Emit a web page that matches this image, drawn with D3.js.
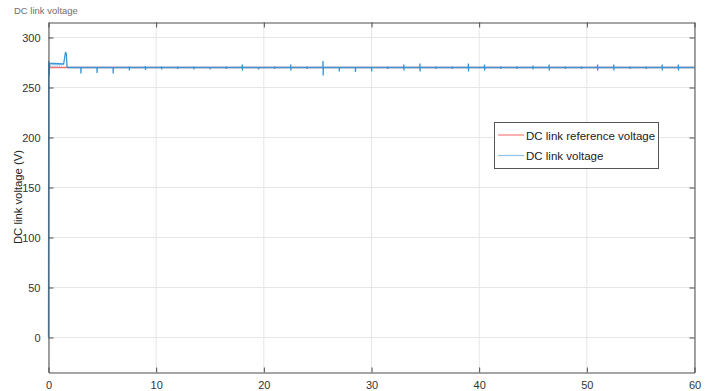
<!DOCTYPE html>
<html>
<head>
<meta charset="utf-8">
<script src="https://cdn.jsdelivr.net/npm/d3@7"></script>
<style>
  body { margin: 0; background: #fff; }
  svg text { font-family: "Liberation Sans", Arial, sans-serif; }
</style>
</head>
<body>
<div id="chart"></div>
<script>
// reference voltage (constant)
const refVoltage = [[0, 270], [60, 270]];

// start-up rise and the fast ripple right after it
const startRise = [[0, 0], [0.02, 276.5], [0.06, 262], [0.1, 274]];
const startRipple = [
  [0.1, 274], [0.2, 270.5], [0.3, 275.2], [0.4, 270.4], [0.5, 275.1], [0.6, 270.5],
  [0.7, 275], [0.8, 270.4], [0.9, 275.1], [1.0, 270.5], [1.1, 275], [1.2, 270.6],
  [1.3, 274.8], [1.4, 272]
];
const startTop = [[0.1, 274], [1.4, 273.5]];
// overshoot when the load steps in
const overshoot = [[1.4, 273], [1.5, 280], [1.58, 285.5], [1.66, 283], [1.72, 271], [1.8, 270]];

// periodic disturbances after start-up: time, upper, lower value
const spikeTimes = [3.0, 4.5, 6.0, 7.5, 9.0, 10.5, 12.0, 13.5, 15.0, 16.5, 18.0, 19.5,
  21.0, 22.5, 24.0, 25.5, 27.0, 28.5, 30.0, 31.5, 33.0, 34.5, 36.0, 37.5, 39.0, 40.5,
  42.0, 43.5, 45.0, 46.5, 48.0, 49.5, 51.0, 52.5, 54.0, 55.5, 57.0, 58.5];
const spikeHigh = [270.5, 270.5, 270.5, 271, 271.5, 271, 271, 271, 270.5, 271, 273, 270.5,
  271, 273, 271, 276.5, 270.5, 270.5, 270.5, 271, 273, 274, 271, 271, 274, 273,
  271, 271, 272, 273, 271, 271, 273, 273, 271, 271, 273, 273];
const spikeLow = [264, 264.5, 264, 267, 267.5, 268, 268.5, 268, 268, 268.5, 267, 268,
  268.5, 267, 268.5, 262, 266, 265.5, 266, 268.5, 267, 266, 268.5, 268.5, 266, 267,
  268.5, 268.5, 268, 267, 268.5, 268.5, 267, 267, 268.5, 268.5, 267, 267];

const xTicks = [0, 10, 20, 30, 40, 50, 60];
const yTicks = [0, 50, 100, 150, 200, 250, 300];
const legendLabels = ['DC link reference voltage', 'DC link voltage'];

// build the steady part of the measured series
const steady = overshoot.slice();
spikeTimes.forEach((t, i) => {
  steady.push([t - 0.02, 270], [t, spikeHigh[i]], [t + 0.01, spikeLow[i]], [t + 0.03, 270]);
});
steady.push([60, 270]);

const W = 712, H = 391;
const mLeft = 48.5, mRight = 694.5, mTop = 22.5, mBottom = 372.5;

const svg = d3.select('#chart').append('svg').attr('width', W).attr('height', H);

const x = d3.scaleLinear().domain([0, 60]).range([mLeft, mRight]);
const y = d3.scaleLinear().domain([-35, 315]).range([mBottom, mTop]);

// grid
svg.append('g').selectAll('line').data(xTicks).join('line')
  .attr('x1', d => x(d)).attr('x2', d => x(d))
  .attr('y1', mTop).attr('y2', mBottom)
  .attr('stroke', '#e6e6e6').attr('stroke-width', 1);
svg.append('g').selectAll('line').data(yTicks).join('line')
  .attr('x1', mLeft).attr('x2', mRight)
  .attr('y1', d => y(d)).attr('y2', d => y(d))
  .attr('stroke', '#e6e6e6').attr('stroke-width', 1);

// data lines
const line = d3.line().x(d => x(d[0])).y(d => y(d[1]));
const blue = '#3a95d4';
svg.append('path').datum(refVoltage).attr('d', line)
  .attr('fill', 'none').attr('stroke', '#f07070').attr('stroke-width', 1.4);
svg.append('path').datum(startRipple).attr('d', line)
  .attr('fill', 'none').attr('stroke', blue).attr('stroke-width', 0.6).attr('stroke-opacity', 0.35);
[startRise, startTop, steady].forEach(s => {
  svg.append('path').datum(s).attr('d', line)
    .attr('fill', 'none').attr('stroke', blue).attr('stroke-width', 1.3);
});

// axes box, MATLAB style with inward ticks
const axisColor = '#4d4d4d';
const xAxis = d3.axisBottom(x).tickValues(xTicks).tickSize(-5).tickSizeOuter(0).tickPadding(9);
const yAxis = d3.axisLeft(y).tickValues(yTicks).tickSize(-5).tickSizeOuter(0).tickPadding(8);

svg.append('g').attr('transform', `translate(0,${mBottom})`).call(xAxis);
svg.append('g').attr('transform', `translate(${mLeft},0)`).call(yAxis);
svg.append('g').attr('transform', `translate(0,${mTop})`)
  .call(d3.axisTop(x).tickValues(xTicks).tickSize(-5).tickSizeOuter(0).tickFormat(''));
svg.append('g').attr('transform', `translate(${mRight},0)`)
  .call(d3.axisRight(y).tickValues(yTicks).tickSize(-5).tickSizeOuter(0).tickFormat(''));

svg.selectAll('.domain').attr('stroke', axisColor);
svg.selectAll('.tick line').attr('stroke', axisColor);
svg.selectAll('.tick text').attr('fill', '#333').style('font-size', '11px');

// title and axis label
svg.append('text').attr('x', 14).attr('y', 14)
  .attr('fill', '#707070').style('font-size', '9.5px').text('DC link voltage');
svg.append('text')
  .attr('transform', 'translate(22,197) rotate(-90)')
  .attr('text-anchor', 'middle').attr('fill', '#222').style('font-size', '11.3px')
  .text('DC link voltage (V)');

// legend
const lg = svg.append('g');
lg.append('rect').attr('x', 494.5).attr('y', 122.5).attr('width', 164).attr('height', 46)
  .attr('fill', '#fff').attr('stroke', '#555').attr('stroke-width', 1);
const legendColors = ['#f47c7c', '#8fc4ea'];
legendLabels.forEach((lab, i) => {
  const ly = 135 + i * 20.5;
  lg.append('line').attr('x1', 498).attr('x2', 524).attr('y1', ly).attr('y2', ly)
    .attr('stroke', legendColors[i]).attr('stroke-width', 1.2);
  lg.append('text').attr('x', 526).attr('y', ly + 4.5)
    .attr('fill', '#222').style('font-size', '11.5px').text(lab);
});
</script>
</body>
</html>
